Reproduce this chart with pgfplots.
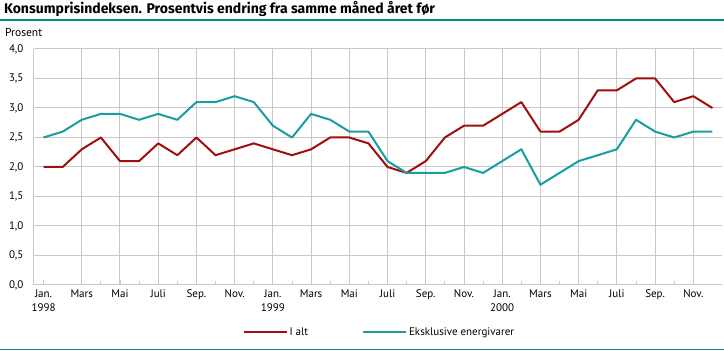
\documentclass[border=0pt]{standalone}
\usepackage{pgfplots}
\pgfplotsset{compat=1.18}
\usepackage{fontspec}
\setmainfont{PT Sans}
\newfontfamily\titlefont{Fira Sans}
\definecolor{kred}{RGB}{160,14,14}
\definecolor{kteal}{RGB}{24,158,158}
\definecolor{kline}{RGB}{0,140,140}
\definecolor{kgrid}{RGB}{200,200,200}
\begin{document}
\begin{tikzpicture}[x=1pt,y=1pt]
\path[use as bounding box] (0,0) rectangle (724,351);
\node[anchor=base west,inner sep=0pt,font=\titlefont\bfseries\fontsize{14}{16}\selectfont] at (4,337) {Konsumprisindeksen. Prosentvis endring fra samme måned året før};
\draw[kline,line width=1.2pt] (0,331) -- (724,331);
\draw[kline,line width=1.2pt] (0,1.5) -- (724,1.5);
\node[anchor=base west,inner sep=0pt,font=\fontsize{11.5}{13}\selectfont] at (5,314) {Prosent};
\begin{axis}[
  scale only axis,
  width=688pt, height=236pt,
  at={(34pt,66pt)}, anchor=south west,
  xmin=-0.5, xmax=35.5, ymin=0, ymax=4,
  axis x line*=bottom, axis y line*=left,
  axis line style={kgrid, line width=1pt},
  xtick={2,4,...,34},
  xticklabels={Mars,Mai,Juli,Sep.,Nov.,{Jan.\\1999},Mars,Mai,Juli,Sep.,Nov.,{Jan.\\2000},Mars,Mai,Juli,Sep.,Nov.},
  extra x ticks={0},
  extra x tick labels={{Jan.\\1998}},
  extra x tick style={grid=none},
  minor x tick num=1,
  ytick={0,0.5,...,4},
  grid=major,
  major grid style={kgrid, line width=1pt},
  tick style={kgrid, line width=0.8pt},
  major tick length=5pt, minor tick length=4pt,
  tick align=inside,
  ytick style={draw=none},
  xticklabel style={align=center, font=\fontsize{11}{14}\selectfont, anchor=north, yshift=-1pt},
  yticklabel style={font=\fontsize{11}{13}\selectfont, xshift=-7pt},
  /pgf/number format/.cd, use comma, fixed, fixed zerofill, precision=1, assume math mode=true,
  /pgfplots/.cd,
  legend columns=2,
  legend style={draw=none, at={(0.502,-0.2)}, anchor=center, font=\fontsize{11}{13}\selectfont,
    /tikz/every even column/.append style={column sep=52pt}},
  legend image code/.code={\draw[#1,line width=2pt] (0pt,0pt) -- (43pt,0pt);},
]
\addplot[kred, line width=2pt, line join=round] coordinates {
(0,2.0)(1,2.0)(2,2.3)(3,2.5)(4,2.1)(5,2.1)(6,2.4)(7,2.2)(8,2.5)(9,2.2)(10,2.3)(11,2.4)
(12,2.3)(13,2.2)(14,2.3)(15,2.5)(16,2.5)(17,2.4)(18,2.0)(19,1.9)(20,2.1)(21,2.5)(22,2.7)(23,2.7)
(24,2.9)(25,3.1)(26,2.6)(27,2.6)(28,2.8)(29,3.3)(30,3.3)(31,3.5)(32,3.5)(33,3.1)(34,3.2)(35,3.0)};
\addlegendentry{I alt}
\addplot[kteal, line width=2pt, line join=round] coordinates {
(0,2.5)(1,2.6)(2,2.8)(3,2.9)(4,2.9)(5,2.8)(6,2.9)(7,2.8)(8,3.1)(9,3.1)(10,3.2)(11,3.1)
(12,2.7)(13,2.5)(14,2.9)(15,2.8)(16,2.6)(17,2.6)(18,2.1)(19,1.9)(20,1.9)(21,1.9)(22,2.0)(23,1.9)
(24,2.1)(25,2.3)(26,1.7)(27,1.9)(28,2.1)(29,2.2)(30,2.3)(31,2.8)(32,2.6)(33,2.5)(34,2.6)(35,2.6)};
\addlegendentry{Eksklusive energivarer}
\end{axis}
\end{tikzpicture}
\end{document}
